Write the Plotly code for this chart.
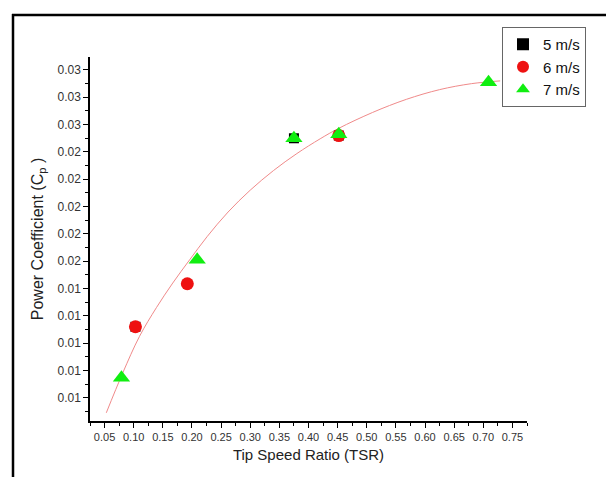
import plotly.graph_objects as go

# Data
x_5ms = [0.103, 0.375, 0.452]
y_5ms = [0.0112, 0.0250, 0.0252]
x_6ms = [0.103, 0.192, 0.452]
y_6ms = [0.0112, 0.01435, 0.0252]
x_7ms = [0.079, 0.209, 0.375, 0.452, 0.709]
y_7ms = [0.00747, 0.0161, 0.0250, 0.0253, 0.0291]

# fitted trend curve
fit_x = [0.053, 0.081, 0.110, 0.139, 0.167, 0.196, 0.226, 0.262, 0.300, 0.340, 0.380, 0.420, 0.452, 0.510, 0.568, 0.625, 0.680, 0.729]
fit_y = [0.0049, 0.0078, 0.0105, 0.0126, 0.0144, 0.0161, 0.0178, 0.0196, 0.0212, 0.02264, 0.02388, 0.02496, 0.02573, 0.02689, 0.02785, 0.02856, 0.0290, 0.0292]

y_tickvals = [0.006, 0.008, 0.010, 0.012, 0.014, 0.016, 0.018, 0.020, 0.022, 0.024, 0.026, 0.028, 0.030]
y_ticktext = ["0.01", "0.01", "0.01", "0.01", "0.01", "0.02", "0.02", "0.02", "0.02", "0.02", "0.03", "0.03", "0.03"]
x_tickvals = [0.05, 0.10, 0.15, 0.20, 0.25, 0.30, 0.35, 0.40, 0.45, 0.50, 0.55, 0.60, 0.65, 0.70, 0.75]
x_ticktext = ["0.05", "0.10", "0.15", "0.20", "0.25", "0.30", "0.35", "0.40", "0.45", "0.50", "0.55", "0.60", "0.65", "0.70", "0.75"]

fig = go.Figure()
fig.add_trace(go.Scatter(x=fit_x, y=fit_y, mode="lines", line=dict(color="#f08a8a", width=1, shape="spline", smoothing=1.0),
                         showlegend=False, hoverinfo="skip"))
fig.add_trace(go.Scatter(x=x_5ms, y=y_5ms, mode="markers", name="5 m/s",
                         marker=dict(symbol="square", size=10, color="#000000")))
fig.add_trace(go.Scatter(x=x_6ms, y=y_6ms, mode="markers", name="6 m/s",
                         marker=dict(symbol="circle", size=13, color="#ee1111")))
fig.add_trace(go.Scatter(x=x_7ms, y=y_7ms, mode="markers", name="7 m/s",
                         marker=dict(symbol="triangle-up", size=15, color="#11ee11")))

W, H = 606, 477
L, R, T, B = 90, 527, 57, 421
def px2paper_x(px):
    return (px - L) / (R - L)
def px2paper_y(py):
    return (B - py) / (B - T)

fig.update_layout(
    width=W, height=H,
    margin=dict(l=L, r=W - R, t=T, b=H - B),
    paper_bgcolor="white", plot_bgcolor="white",
    font=dict(family="Liberation Sans, Arial, sans-serif", color="#222222"),
    xaxis=dict(range=[0.025, 0.775], tickmode="array", tickvals=x_tickvals, ticktext=x_ticktext,
               showgrid=False, zeroline=False, showline=True, linecolor="black", linewidth=1.5,
               ticks="outside", ticklen=5, tickwidth=1.2, tickcolor="black",
               tickfont=dict(size=11, color="#333333"),
               minor=dict(tickmode="linear", tick0=0.025, dtick=0.05, ticks="outside", ticklen=3, tickcolor="black", tickwidth=1),
               title=dict(text="Tip Speed Ratio (TSR)", font=dict(size=15, color="#222222"), standoff=8)),
    yaxis=dict(range=[0.0043, 0.03095], tickmode="array", tickvals=y_tickvals, ticktext=y_ticktext,
               showgrid=False, zeroline=False, showline=True, linecolor="black", linewidth=1.5,
               ticks="outside", ticklen=5, tickwidth=1.2, tickcolor="black",
               tickfont=dict(size=12, color="#333333"),
               minor=dict(tickmode="linear", tick0=0.005, dtick=0.002, ticks="outside", ticklen=3, tickcolor="black", tickwidth=1),
               title=dict(text="Power Coefficient (C<sub>p</sub> )", font=dict(size=16, color="#222222"), standoff=10)),
    legend=dict(x=px2paper_x(502), y=px2paper_y(27), xanchor="left", yanchor="top",
                bordercolor="#666666", borderwidth=1, bgcolor="white",
                font=dict(size=15, color="#111111"), itemsizing="constant", tracegroupgap=0),
    shapes=[
        dict(type="line", xref="paper", yref="paper", x0=px2paper_x(13), x1=px2paper_x(13),
             y0=px2paper_y(14), y1=px2paper_y(480), line=dict(color="black", width=2.5)),
        dict(type="line", xref="paper", yref="paper", x0=px2paper_x(12), x1=px2paper_x(610),
             y0=px2paper_y(15), y1=px2paper_y(15), line=dict(color="black", width=2.5)),
    ],
)

fig.write_html("out.html")
